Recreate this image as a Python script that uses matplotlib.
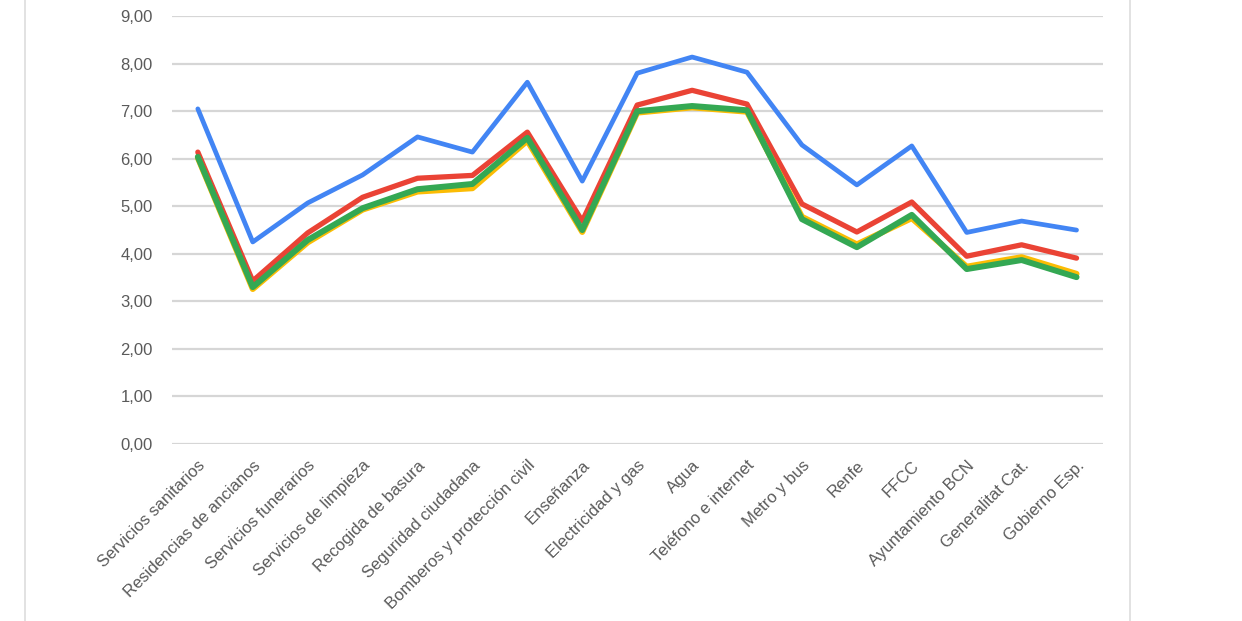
import numpy as np
import matplotlib.pyplot as plt
from matplotlib.lines import Line2D

plt.rcParams['font.family'] = ['Liberation Sans', 'DejaVu Sans']

categories = [
    "Servicios sanitarios", "Residencias de ancianos", "Servicios funerarios",
    "Servicios de limpieza", "Recogida de basura", "Seguridad ciudadana",
    "Bomberos y protección civil", "Enseñanza", "Electricidad y gas", "Agua",
    "Teléfono e internet", "Metro y bus", "Renfe", "FFCC",
    "Ayuntamiento BCN", "Generalitat Cat.", "Gobierno Esp.",
]

blue = [7.05, 4.25, 5.07, 5.66, 6.46, 6.14, 7.61, 5.53, 7.80, 8.14,
        7.82, 6.29, 5.45, 6.27, 4.45, 4.69, 4.50]
red = [6.14, 3.43, 4.44, 5.19, 5.59, 5.65, 6.56, 4.69, 7.13, 7.44,
       7.15, 5.05, 4.46, 5.09, 3.95, 4.19, 3.91]
yellow = [6.02, 3.26, 4.24, 4.93, 5.31, 5.38, 6.38, 4.46, 6.97, 7.08,
          6.99, 4.78, 4.20, 4.75, 3.73, 3.93, 3.58]
green = [6.04, 3.30, 4.29, 4.96, 5.36, 5.47, 6.44, 4.50, 7.00, 7.11,
         7.02, 4.73, 4.14, 4.82, 3.68, 3.87, 3.51]

yticks = np.arange(0, 10, 1)

fig = plt.figure(figsize=(12.42, 6.21), dpi=100)
ax = fig.add_axes([0.1385, 0.285, 0.7495, 0.689])

x = np.arange(len(categories))
ax.plot(x, blue, color='#4285F4', lw=3.4, solid_capstyle='round', zorder=3)
ax.plot(x, red, color='#EA4335', lw=3.8, solid_capstyle='round', zorder=4)
ax.plot(x, yellow, color='#FBBC04', lw=4.3, solid_capstyle='round', zorder=5)
ax.plot(x, green, color='#34A853', lw=4.3, solid_capstyle='round', zorder=6)

ax.set_xlim(-0.47, 16.48)
ax.set_ylim(0, 9)
ax.set_yticks(yticks)
ax.set_yticklabels([f"{v:.2f}".replace('.', ',') for v in yticks])
ax.set_xticks(x)
ax.set_xticklabels(categories, rotation=45, ha='right', rotation_mode='anchor')

ax.tick_params(axis='both', length=0, labelcolor='#5a5a5a')
ax.tick_params(axis='y', pad=14, labelsize=12)
ax.tick_params(axis='x', pad=10, labelsize=12)
ax.grid(axis='y', color='#d6d6d6', lw=1.6)
ax.set_axisbelow(True)
for s in ax.spines.values():
    s.set_visible(False)

# card borders
fig.add_artist(Line2D([25 / 1242, 25 / 1242], [0, 1], color='#dddddd', lw=1.2))
fig.add_artist(Line2D([1130 / 1242, 1130 / 1242], [0, 1], color='#dddddd', lw=1.2))

fig.savefig('out.png', dpi=100)
